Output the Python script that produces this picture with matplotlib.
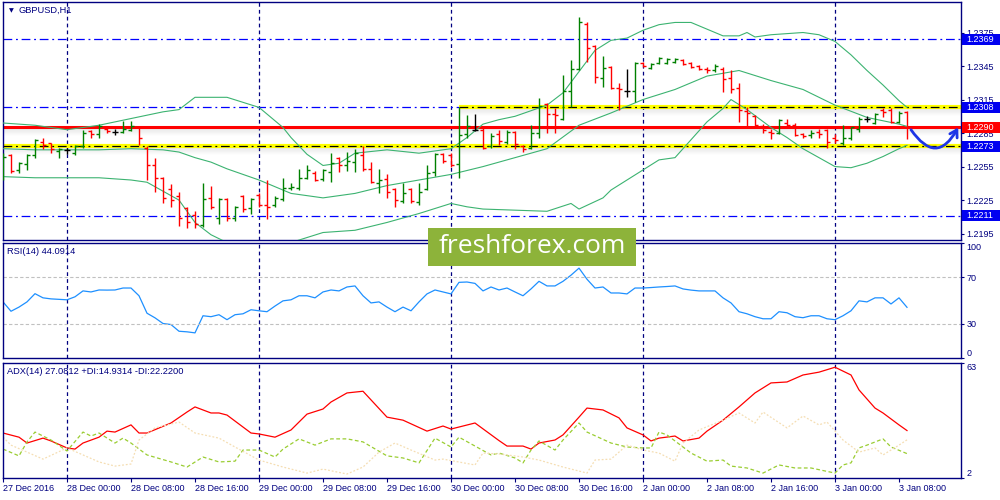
import numpy as np
import matplotlib.pyplot as plt
from matplotlib.patches import Rectangle
from matplotlib.transforms import blended_transform_factory

plt.rcParams['font.family'] = ['Liberation Sans', 'DejaVu Sans']

# GBPUSD H1 bars, 27 Dec 16:00 .. 3 Jan 09:00
opens = [1.2250, 1.2265, 1.2252, 1.2257, 1.2265, 1.2277, 1.2276, 1.2269, 1.2270, 1.2267,
         1.2273, 1.2287, 1.2284, 1.2289, 1.2286, 1.2286, 1.2288, 1.2290, 1.2272, 1.2256,
         1.2245, 1.2235, 1.2229, 1.2218, 1.2212, 1.2203, 1.2227, 1.2209, 1.2226, 1.2209,
         1.2229, 1.2218, 1.2230, 1.2221, 1.2221, 1.2226, 1.2236, 1.2236, 1.2245, 1.2249,
         1.2244, 1.2250, 1.2263, 1.2256, 1.2259, 1.2265, 1.2253, 1.2240, 1.2244, 1.2235,
         1.2224, 1.2235, 1.2223, 1.2235, 1.2250, 1.2266, 1.2265, 1.2257, 1.2284, 1.2288,
         1.2288, 1.2273, 1.2284, 1.2277, 1.2286, 1.2273, 1.2272, 1.2285, 1.2311, 1.2302,
         1.2298, 1.2323, 1.2342, 1.2383, 1.2363, 1.2334, 1.2344, 1.2325, 1.2323, 1.2323,
         1.2348, 1.2343, 1.2348, 1.2348, 1.2349, 1.2350, 1.2348, 1.2345, 1.2342, 1.2341,
         1.2342, 1.2334, 1.2325, 1.2305, 1.2300, 1.2291, 1.2286, 1.2285, 1.2294, 1.2292,
         1.2284, 1.2283, 1.2286, 1.2288, 1.2281, 1.2276, 1.2281, 1.2289, 1.2298, 1.2294,
         1.2306, 1.2306, 1.2295, 1.2304]
highs = [1.2267, 1.2266, 1.2259, 1.2266, 1.2280, 1.2281, 1.2276, 1.2272, 1.2272, 1.2274,
         1.2288, 1.2288, 1.2293, 1.2290, 1.2289, 1.2296, 1.2296, 1.2290, 1.2273, 1.2263,
         1.2246, 1.2239, 1.2232, 1.2219, 1.2215, 1.2240, 1.2238, 1.2227, 1.2227, 1.2220,
         1.2230, 1.2227, 1.2231, 1.2243, 1.2229, 1.2245, 1.2240, 1.2253, 1.2256, 1.2251,
         1.2253, 1.2267, 1.2264, 1.2268, 1.2271, 1.2273, 1.2259, 1.2253, 1.2248, 1.2236,
         1.2240, 1.2236, 1.2240, 1.2256, 1.2267, 1.2267, 1.2267, 1.2308, 1.2301, 1.2302,
         1.2290, 1.2285, 1.2288, 1.2288, 1.2287, 1.2274, 1.2292, 1.2316, 1.2312, 1.2307,
         1.2337, 1.2350, 1.2389, 1.2384, 1.2364, 1.2354, 1.2345, 1.2330, 1.2342, 1.2349,
         1.2349, 1.2348, 1.2353, 1.2352, 1.2352, 1.2351, 1.2349, 1.2346, 1.2344, 1.2347,
         1.2344, 1.2341, 1.2330, 1.2308, 1.2301, 1.2293, 1.2289, 1.2298, 1.2298, 1.2294,
         1.2285, 1.2288, 1.2289, 1.2289, 1.2284, 1.2292, 1.2290, 1.2299, 1.2300, 1.2303,
         1.2307, 1.2307, 1.2305, 1.2305]
lows = [1.2243, 1.2249, 1.2249, 1.2252, 1.2263, 1.2271, 1.2267, 1.2263, 1.2266, 1.2265,
        1.2272, 1.2281, 1.2281, 1.2285, 1.2283, 1.2285, 1.2287, 1.2274, 1.2243, 1.2232,
        1.2222, 1.2219, 1.2202, 1.2200, 1.2200, 1.2201, 1.2217, 1.2204, 1.2206, 1.2206,
        1.2214, 1.2213, 1.2219, 1.2208, 1.2219, 1.2224, 1.2234, 1.2234, 1.2244, 1.2242,
        1.2242, 1.2241, 1.2250, 1.2251, 1.2250, 1.2251, 1.2240, 1.2231, 1.2227, 1.2219,
        1.2222, 1.2222, 1.2221, 1.2234, 1.2247, 1.2258, 1.2255, 1.2245, 1.2281, 1.2287,
        1.2271, 1.2272, 1.2274, 1.2275, 1.2271, 1.2268, 1.2271, 1.2281, 1.2285, 1.2285,
        1.2297, 1.2308, 1.2341, 1.2349, 1.2330, 1.2326, 1.2324, 1.2306, 1.2317, 1.2313,
        1.2344, 1.2342, 1.2347, 1.2347, 1.2348, 1.2346, 1.2343, 1.2341, 1.2339, 1.2340,
        1.2322, 1.2321, 1.2295, 1.2290, 1.2290, 1.2285, 1.2280, 1.2284, 1.2290, 1.2282,
        1.2281, 1.2281, 1.2281, 1.2272, 1.2276, 1.2274, 1.2279, 1.2286, 1.2295, 1.2293,
        1.2299, 1.2294, 1.2294, 1.2280]
closes = [1.2264, 1.2251, 1.2258, 1.2265, 1.2279, 1.2274, 1.2271, 1.2271, 1.2270, 1.2273,
          1.2285, 1.2284, 1.2291, 1.2287, 1.2286, 1.2289, 1.2291, 1.2281, 1.2256, 1.2245,
          1.2227, 1.2225, 1.2209, 1.2205, 1.2204, 1.2226, 1.2219, 1.2226, 1.2209, 1.2219,
          1.2217, 1.2226, 1.2221, 1.2219, 1.2227, 1.2236, 1.2237, 1.2245, 1.2252, 1.2243,
          1.2252, 1.2258, 1.2256, 1.2260, 1.2267, 1.2253, 1.2241, 1.2243, 1.2232, 1.2225,
          1.2231, 1.2224, 1.2232, 1.2249, 1.2266, 1.2260, 1.2256, 1.2283, 1.2291, 1.2288,
          1.2272, 1.2282, 1.2278, 1.2286, 1.2275, 1.2271, 1.2285, 1.2309, 1.2302, 1.2301,
          1.2323, 1.2342, 1.2384, 1.2361, 1.2335, 1.2343, 1.2325, 1.2324, 1.2323, 1.2348,
          1.2345, 1.2347, 1.2352, 1.2351, 1.2351, 1.2347, 1.2344, 1.2342, 1.2341, 1.2345,
          1.2333, 1.2324, 1.2306, 1.2303, 1.2292, 1.2288, 1.2285, 1.2297, 1.2292, 1.2283,
          1.2282, 1.2285, 1.2284, 1.2277, 1.2279, 1.2281, 1.2290, 1.2298, 1.2298, 1.2302,
          1.2304, 1.2295, 1.2303, 1.2290]

# bollinger bands (bar index, price)
upper_idx = [0, 4, 8, 12, 16, 20, 22, 24, 28, 32, 35, 36, 38, 40, 42, 44, 48, 52, 56, 58,
             60, 62, 64, 68, 70, 72, 74, 76, 78, 80, 82, 84, 86, 88, 90, 92, 93, 94, 96, 100,
             102, 104, 106, 108, 110, 112, 113]
upper = [1.2294, 1.2292, 1.2288, 1.2292, 1.2298, 1.2304, 1.2306, 1.2317, 1.2317, 1.2308,
         1.2290, 1.2281, 1.2266, 1.2256, 1.2258, 1.2267, 1.2270, 1.2267, 1.2271, 1.2281,
         1.2293, 1.2297, 1.2300, 1.2310, 1.2321, 1.2340, 1.2359, 1.2368, 1.2370, 1.2377,
         1.2382, 1.2384, 1.2384, 1.2378, 1.2372, 1.2372, 1.2375, 1.2371, 1.2373, 1.2375,
         1.2373, 1.2367, 1.2355, 1.2341, 1.2328, 1.2314, 1.2308]
middle_idx = [0, 4, 8, 12, 16, 20, 22, 24, 26, 28, 32, 36, 40, 44, 48, 52, 56, 60, 64, 68,
              72, 76, 80, 84, 88, 92, 96, 100, 104, 108, 112, 113]
middle = [1.2271, 1.2270, 1.2270, 1.2270, 1.2271, 1.2270, 1.2268, 1.2263, 1.2259, 1.2253,
          1.2243, 1.2231, 1.2227, 1.2231, 1.2238, 1.2243, 1.2248, 1.2255, 1.2263, 1.2271,
          1.2292, 1.2303, 1.2315, 1.2324, 1.2336, 1.2341, 1.2332, 1.2324, 1.2310, 1.2299,
          1.2293, 1.2291]
lower_idx = [0, 4, 8, 12, 16, 18, 20, 22, 24, 26, 28, 32, 36, 40, 44, 48, 52, 56, 58, 60,
             64, 68, 71, 72, 75, 76, 80, 82, 84, 86, 88, 90, 91, 93, 96, 98, 100, 102, 104,
             106, 108, 110, 112, 113]
lower = [1.2246, 1.2245, 1.2245, 1.2245, 1.2243, 1.2241, 1.2233, 1.2225, 1.2205, 1.2194,
         1.2187, 1.2182, 1.2187, 1.2196, 1.2198, 1.2205, 1.2213, 1.2222, 1.2219, 1.2217,
         1.2216, 1.2215, 1.2222, 1.2217, 1.2227, 1.2234, 1.2252, 1.2261, 1.2263, 1.2279,
         1.2295, 1.2307, 1.2315, 1.2306, 1.2290, 1.2281, 1.2271, 1.2263, 1.2255, 1.2254,
         1.2258, 1.2264, 1.2271, 1.2274]

rsi = [48.8, 40.7, 44.3, 48.8, 55.9, 52.3, 51.4, 51.0, 50.6, 53.2,
       58.3, 57.4, 59.1, 59.0, 59.1, 60.8, 60.8, 54.1, 39.0, 35.0,
       30.1, 29.2, 23.4, 22.9, 22.0, 36.8, 36.0, 37.7, 33.4, 37.7,
       38.5, 42.0, 41.1, 40.3, 45.2, 49.7, 50.6, 54.1, 54.1, 52.3,
       57.4, 59.1, 58.3, 61.7, 62.6, 54.1, 47.9, 48.8, 44.3, 40.3,
       44.3, 41.1, 48.8, 55.7, 59.1, 57.4, 55.7, 65.7, 66.0, 64.8,
       58.3, 61.7, 59.1, 60.8, 57.4, 54.1, 60.0, 66.6, 62.6, 62.6,
       66.6, 71.9, 78.0, 68.4, 60.8, 61.7, 56.5, 56.5, 55.7, 60.8,
       60.8, 61.2, 61.7, 62.1, 62.6, 60.0, 59.0, 58.3, 58.3, 58.3,
       52.3, 47.9, 40.3, 38.5, 36.0, 34.2, 34.2, 40.3, 39.4, 36.0,
       35.1, 36.8, 36.8, 34.2, 33.4, 36.8, 41.1, 49.7, 48.8, 52.3,
       52.3, 47.0, 52.3, 44.1]

adx_idx = [0, 2, 3, 5, 6, 8, 9, 10, 12, 13, 14, 16, 17, 18, 21, 23, 24, 26, 27, 28,
           31, 32, 34, 36, 38, 40, 41, 43, 45, 48, 50, 53, 55, 56, 59, 62, 63, 65, 66, 67,
           69, 70, 72, 73, 75, 77, 78, 80, 81, 82, 84, 85, 87, 88, 90, 92, 94, 96, 98, 100,
           102, 104, 106, 107, 109, 110, 112, 113]
adx = [25.8, 23.6, 20.5, 23.1, 21.6, 17.9, 17.3, 20.5, 23.6, 26.8, 26.3, 30.1, 25.8, 25.8,
       31.1, 36.9, 39.6, 36.4, 36.4, 35.3, 25.8, 25.3, 23.6, 27.4, 35.8, 38.5, 42.2, 47.0,
       47.9, 34.2, 32.6, 26.8, 29.5, 27.9, 31.1, 21.8, 18.9, 18.9, 17.3, 20.5, 22.1, 24.8,
       34.2, 39.0, 38.0, 33.8, 28.5, 24.8, 21.6, 23.1, 24.2, 21.6, 23.1, 26.8, 32.6, 39.6,
       47.0, 52.3, 52.8, 56.5, 58.0, 60.6, 56.5, 48.6, 39.0, 36.4, 30.1, 27.1]
pdi_idx = [0, 2, 3, 4, 6, 8, 10, 11, 12, 14, 15, 16, 18, 21, 23, 25, 27, 29, 30, 32,
           34, 35, 37, 39, 41, 43, 45, 48, 50, 52, 54, 56, 57, 59, 61, 62, 64, 65, 66, 67,
           69, 70, 72, 73, 76, 78, 80, 81, 82, 83, 85, 86, 88, 90, 91, 93, 95, 97, 99, 101,
           104, 105, 106, 107, 108, 110, 111, 113]
pdi = [17.3, 13.7, 21.1, 26.3, 22.1, 16.3, 26.3, 24.2, 25.8, 20.5, 23.1, 20.5, 14.2, 10.5,
       7.8, 13.1, 10.5, 10.9, 16.8, 16.8, 13.1, 17.3, 22.7, 19.4, 22.7, 22.7, 21.1, 13.7,
       12.6, 10.0, 23.1, 18.4, 23.6, 18.9, 14.2, 15.2, 12.6, 10.0, 16.8, 21.6, 16.8, 22.1,
       31.1, 26.3, 20.5, 18.4, 17.9, 17.9, 26.3, 24.8, 18.4, 15.2, 10.9, 11.5, 8.3, 7.3,
       4.6, 8.9, 7.3, 7.3, 4.6, 8.9, 10.0, 17.9, 19.4, 22.7, 18.4, 14.9]
mdi_idx = [0, 1, 3, 5, 8, 12, 14, 16, 17, 19, 22, 24, 27, 29, 32, 35, 38, 40, 43, 45,
           47, 49, 51, 54, 55, 59, 60, 62, 63, 65, 67, 70, 73, 74, 76, 78, 80, 82, 84, 85,
           87, 90, 92, 94, 95, 98, 100, 102, 103, 105, 107, 109, 110, 112, 113]
mdi = [23.6, 19.4, 15.7, 12.0, 17.9, 10.5, 8.3, 9.4, 22.1, 28.5, 31.6, 25.8, 23.1, 18.4,
       11.5, 7.8, 4.6, 6.7, 4.1, 7.8, 15.7, 20.5, 16.8, 11.5, 12.0, 8.9, 15.2, 14.7, 14.2,
       13.1, 11.5, 7.8, 4.6, 11.5, 12.0, 19.4, 16.8, 15.2, 10.9, 20.5, 27.4, 32.6, 36.4,
       31.1, 36.9, 28.5, 34.8, 30.1, 31.6, 22.1, 15.7, 17.9, 14.2, 19.4, 22.2]

time_labels = ["27 Dec 2016", "28 Dec 00:00", "28 Dec 08:00", "28 Dec 16:00",
               "29 Dec 00:00", "29 Dec 08:00", "29 Dec 16:00", "30 Dec 00:00",
               "30 Dec 08:00", "30 Dec 16:00", "2 Jan 00:00", "2 Jan 08:00",
               "2 Jan 16:00", "3 Jan 00:00", "3 Jan 08:00"]
day_starts = [8, 32, 56, 80, 104]
price_ticks = [1.2195, 1.2225, 1.2255, 1.2285, 1.2315, 1.2345, 1.2375]

navy = '#000080'
o = np.array(opens); h = np.array(highs); l = np.array(lows); c = np.array(closes)
x = np.arange(len(c))
cols = np.where(c > o, '#008000', np.where(c < o, '#FF0000', '#000000'))

fig = plt.figure(figsize=(10, 5), dpi=100)
ax = fig.add_axes([0.003, 0.52, 0.958, 0.476])
ax_rsi = fig.add_axes([0.003, 0.2834, 0.958, 0.2312])
ax_adx = fig.add_axes([0.003, 0.044, 0.958, 0.2306])

for a in (ax, ax_rsi, ax_adx):
    a.set_xlim(0, 119.75)
    a.yaxis.tick_right()
    a.tick_params(axis='y', colors=navy, labelsize=6.5, length=2.5, width=0.8, pad=1.5)
    a.set_xticks([])
    for s in a.spines.values():
        s.set_color(navy)
        s.set_linewidth(1.0)
    for d in day_starts:
        a.axvline(d, color=navy, lw=0.9, ls=(0, (3, 2.5)), zorder=1)

# --- main price window ---
ax.set_ylim(1.21893, 1.24023)
ax.set_yticks(price_ticks)
ax.set_yticklabels([f"{p:.4f}" for p in price_ticks])


def shadow(y, x0, x1):
    for k in range(1, 9):
        ax.hlines(y - k * 0.00008, x0, x1, color='black', alpha=0.06 * (9 - k) / 8,
                  lw=1.2, zorder=1.5)


ax.hlines(1.2369, 0, 120, color='#0000FF', lw=0.9, ls=(0, (7, 3, 1.5, 3)), zorder=2)
ax.hlines(1.2211, 0, 120, color='#0000FF', lw=0.9, ls=(0, (7, 3, 1.5, 3)), zorder=2)
ax.hlines(1.2308, 0, 57, color='#0000FF', lw=0.9, ls=(0, (7, 3, 1.5, 3)), zorder=2)
shadow(1.2308, 57, 120)
ax.hlines(1.2308, 57, 120, color='#FFFF00', lw=3, zorder=2)
ax.hlines(1.2308, 57, 120, color='black', lw=0.9, ls=(0, (7, 3, 1.5, 3)), zorder=2.1)
shadow(1.2273, 0, 120)
ax.hlines(1.2273, 0, 120, color='#FFFF00', lw=3, zorder=2)
ax.hlines(1.2273, 0, 120, color='black', lw=0.9, ls=(0, (7, 3, 1.5, 3)), zorder=2.1)
shadow(1.2290, 0, 120)
ax.hlines(1.2290, 0, 120, color='#FF0000', lw=2.2, zorder=2.2)

ax.plot(upper_idx, upper, color='#3CB371', lw=0.8, zorder=3)
ax.plot(middle_idx, middle, color='#3CB371', lw=0.8, zorder=3)
ax.plot(lower_idx, lower, color='#3CB371', lw=0.8, zorder=3)

ax.vlines(x, l, h, colors=cols, lw=1.0, zorder=4)
ax.hlines(o, x - 0.4, x, colors=cols, lw=1.0, zorder=4)
ax.hlines(c, x, x + 0.4, colors=cols, lw=1.0, zorder=4)

tr = blended_transform_factory(ax.transAxes, ax.transData)
for lvl, col in [(1.2369, '#0000F0'), (1.2308, '#0000F0'), (1.2290, '#FF0000'),
                 (1.2273, '#0000F0'), (1.2211, '#0000F0')]:
    ax.add_patch(Rectangle((1.001, lvl - 0.00050), 0.04, 0.00100, transform=tr,
                           facecolor=col, edgecolor='none', clip_on=False, zorder=5))
    ax.text(1.006, lvl, f"{lvl:.4f}", transform=tr, color='white', fontsize=6.5,
            va='center', ha='left', zorder=6, clip_on=False)

ax.annotate('', xy=(119.4, 1.2290), xytext=(113.5, 1.2288), annotation_clip=False,
            arrowprops=dict(arrowstyle='->,head_length=0.5,head_width=0.3',
                            connectionstyle='arc3,rad=0.8', color='#1E35E6', lw=2,
                            shrinkA=0, shrinkB=0), zorder=7)

ax.text(0.006, 0.965, '▼', transform=ax.transAxes, fontsize=4.5, color=navy,
        va='center', ha='left', family=['DejaVu Sans'])
ax.text(0.016, 0.965, 'GBPUSD,H1', transform=ax.transAxes, fontsize=6.7, color=navy,
        va='center', ha='left')

# --- RSI window ---
ax_rsi.plot(x, rsi, color='#1E90FF', lw=0.9)
ax_rsi.axhline(70, color='#C0C0C0', lw=0.8, ls=(0, (3, 2)))
ax_rsi.axhline(30, color='#C0C0C0', lw=0.8, ls=(0, (3, 2)))
ax_rsi.set_ylim(0, 100)
ax_rsi.set_yticks([0, 30, 70, 100])
ax_rsi.set_yticklabels(['0', '30', '70', '100'])
lbls = ax_rsi.get_yticklabels()
lbls[0].set_va('bottom')
lbls[3].set_va('top')
ax_rsi.text(0.004, 0.925, 'RSI(14) 44.0914', transform=ax_rsi.transAxes, fontsize=6.7,
            color=navy, va='center', ha='left')

# --- ADX window ---
ax_adx.plot(adx_idx, adx, color='#FF0000', lw=0.9)
ax_adx.plot(pdi_idx, pdi, color='#9ACD32', lw=0.9, ls=(0, (3, 2)))
ax_adx.plot(mdi_idx, mdi, color='#F5DEB3', lw=0.9, ls=(0, (1.5, 1.5)))
ax_adx.set_ylim(2, 63)
ax_adx.set_yticks([2, 63])
ax_adx.set_yticklabels(['2', '63'])
lbls = ax_adx.get_yticklabels()
lbls[0].set_va('bottom')
lbls[1].set_va('top')
ax_adx.text(0.004, 0.925, 'ADX(14) 27.0812 +DI:14.9314 -DI:22.2200',
            transform=ax_adx.transAxes, fontsize=6.7, color=navy, va='center', ha='left')
ax_adx.set_xticks(range(0, 113, 8))
ax_adx.set_xticklabels(time_labels)
ax_adx.tick_params(axis='x', colors=navy, labelsize=6.5, length=3, width=0.8, pad=1.5)
for t in ax_adx.get_xticklabels():
    t.set_ha('left')

# watermark
fig.patches.append(Rectangle((0.428, 0.468), 0.208, 0.076, transform=fig.transFigure,
                             facecolor='#8DB33A', edgecolor='none', zorder=10))
fig.text(0.532, 0.507, 'freshforex.com', fontsize=19, color='white', ha='center',
         va='center', family=['Open Sans', 'DejaVu Sans'], zorder=11)

fig.savefig('out.png', dpi=100)
